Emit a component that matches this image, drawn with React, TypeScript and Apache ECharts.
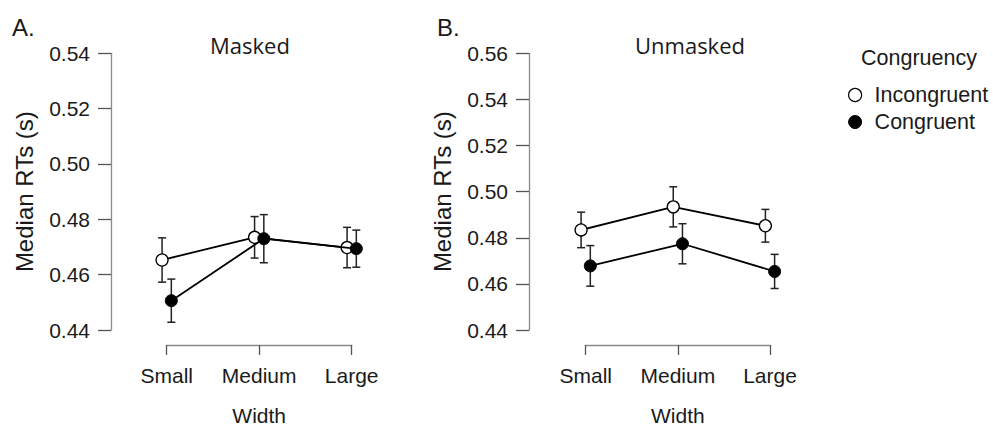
import React, { useEffect, useRef } from "react";
import * as echarts from "echarts";

const categories = ["Small", "Medium", "Large"];
const maskedTicks = [0.44, 0.54];
const unmaskedTicks = [0.44, 0.56];

const maskedIncongruent = [0.4653, 0.4735, 0.4698];
const maskedIncongruentErr = [0.008, 0.0075, 0.0073];
const maskedCongruent = [0.4506, 0.473, 0.4694];
const maskedCongruentErr = [0.0078, 0.0087, 0.0067];

const unmaskedIncongruent = [0.4834, 0.4934, 0.4852];
const unmaskedIncongruentErr = [0.0077, 0.0087, 0.0071];
const unmaskedCongruent = [0.4678, 0.4774, 0.4654];
const unmaskedCongruentErr = [0.0088, 0.0087, 0.0074];

const DODGE = 0.05;
const ARIAL = "'Liberation Sans', Arial, sans-serif";
const TEXT = "#1a1a1a";
const AXIS = "#8a8a8a";

function pts(vals: number[], off: number) {
  return vals.map((v, i) => [i + 1 + off, v]);
}
function errs(vals: number[], e: number[], off: number) {
  return vals.map((v, i) => [i + 1 + off, v - e[i], v + e[i]]);
}

function errorRender(params: any, api: any) {
  const x = api.value(0);
  const lo = api.coord([x, api.value(1)]);
  const hi = api.coord([x, api.value(2)]);
  const cap = 4;
  const style = { stroke: "#222", lineWidth: 1.5 };
  return {
    type: "group",
    children: [
      { type: "line", shape: { x1: lo[0], y1: lo[1], x2: hi[0], y2: hi[1] }, style },
      { type: "line", shape: { x1: lo[0] - cap, y1: lo[1], x2: lo[0] + cap, y2: lo[1] }, style },
      { type: "line", shape: { x1: hi[0] - cap, y1: hi[1], x2: hi[0] + cap, y2: hi[1] }, style },
    ],
  };
}

function xAxisFor(gridIndex: number) {
  return {
    type: "value",
    gridIndex,
    min: 1,
    max: 3,
    interval: 1,
    offset: 15,
    name: "Width",
    nameLocation: "middle",
    nameGap: 60,
    nameTextStyle: { fontFamily: ARIAL, fontSize: 21, color: TEXT },
    axisLine: { show: true, lineStyle: { color: AXIS, width: 1.3 } },
    axisTick: { show: true, length: 10, lineStyle: { color: "#555", width: 1.3 } },
    axisLabel: {
      margin: 20,
      fontFamily: ARIAL,
      fontSize: 21,
      color: TEXT,
      formatter: (v: number) => categories[Math.round(v) - 1] ?? "",
    },
    splitLine: { show: false },
  };
}

function yAxisFor(gridIndex: number, ticks: number[], offset: number) {
  return {
    type: "value",
    gridIndex,
    min: ticks[0],
    max: ticks[1],
    interval: 0.02,
    offset,
    name: "Median RTs (s)",
    nameLocation: "middle",
    nameRotate: 90,
    nameGap: 75,
    nameTextStyle: { fontFamily: ARIAL, fontSize: 24, color: TEXT },
    axisLine: { show: true, lineStyle: { color: AXIS, width: 1.3 } },
    axisTick: { show: true, length: 13, lineStyle: { color: "#555", width: 1.3 } },
    axisLabel: {
      margin: 21,
      fontFamily: ARIAL,
      fontSize: 21,
      color: TEXT,
      formatter: (v: number) => v.toFixed(2),
    },
    splitLine: { show: false },
  };
}

function lineSeries(name: string, data: number[][], idx: number, open: boolean) {
  return {
    type: "line",
    name,
    xAxisIndex: idx,
    yAxisIndex: idx,
    data,
    clip: false,
    symbol: "circle",
    symbolSize: 12,
    z: open ? 3 : 4,
    lineStyle: { color: "#000", width: 1.8 },
    itemStyle: open
      ? { color: "#fff", borderColor: "#000", borderWidth: 1.3 }
      : { color: "#000", borderColor: "#000", borderWidth: 1 },
  };
}

function errSeries(data: number[][], idx: number) {
  return {
    type: "custom",
    xAxisIndex: idx,
    yAxisIndex: idx,
    data,
    clip: false,
    z: 2,
    silent: true,
    renderItem: errorRender,
  };
}

export default function App() {
  const ref = useRef<HTMLDivElement>(null);
  useEffect(() => {
    document.body.style.margin = "0";
    const chart = echarts.init(ref.current!, undefined, { renderer: "svg" });
    chart.setOption({
      animation: false,
      backgroundColor: "#fff",
      grid: [
        { left: 166.7, top: 53.3, width: 185, height: 283.4 },
        { left: 585.7, top: 53.3, width: 184.3, height: 283.4 },
      ],
      xAxis: [xAxisFor(0), xAxisFor(1)],
      yAxis: [yAxisFor(0, maskedTicks, 55.7), yAxisFor(1, unmaskedTicks, 56.7)],
      legend: {
        orient: "vertical",
        left: 843,
        top: 79,
        icon: "circle",
        itemWidth: 13,
        itemHeight: 13,
        itemGap: 5,
        textStyle: { fontFamily: ARIAL, fontSize: 21.5, color: TEXT, padding: [0, 0, 0, 8] },
        data: [
          { name: "Incongruent", itemStyle: { color: "#fff", borderColor: "#000", borderWidth: 1.2 } },
          { name: "Congruent", itemStyle: { color: "#000", borderColor: "#000", borderWidth: 1 } },
        ],
      },
      graphic: [
        { type: "text", x: 12, y: 27, style: { text: "A.", fontFamily: ARIAL, fontSize: 24, fill: TEXT, align: "left", verticalAlign: "middle" } },
        { type: "text", x: 437, y: 27, style: { text: "B.", fontFamily: ARIAL, fontSize: 24, fill: TEXT, align: "left", verticalAlign: "middle" } },
        { type: "text", x: 250, y: 45, style: { text: "Masked", fontFamily: "'Open Sans', sans-serif", fontSize: 22, fill: TEXT, align: "center", verticalAlign: "middle" } },
        { type: "text", x: 690, y: 45, style: { text: "Unmasked", fontFamily: "'Open Sans', sans-serif", fontSize: 22, fill: TEXT, align: "center", verticalAlign: "middle" } },
        { type: "text", x: 919, y: 58, style: { text: "Congruency", fontFamily: ARIAL, fontSize: 21.5, fill: TEXT, align: "center", verticalAlign: "middle" } },
      ],
      series: [
        errSeries(errs(maskedIncongruent, maskedIncongruentErr, -DODGE), 0),
        errSeries(errs(maskedCongruent, maskedCongruentErr, DODGE), 0),
        lineSeries("Incongruent", pts(maskedIncongruent, -DODGE), 0, true),
        lineSeries("Congruent", pts(maskedCongruent, DODGE), 0, false),
        errSeries(errs(unmaskedIncongruent, unmaskedIncongruentErr, -DODGE), 1),
        errSeries(errs(unmaskedCongruent, unmaskedCongruentErr, DODGE), 1),
        lineSeries("Incongruent", pts(unmaskedIncongruent, -DODGE), 1, true),
        lineSeries("Congruent", pts(unmaskedCongruent, DODGE), 1, false),
      ],
    });
    return () => chart.dispose();
  }, []);
  return <div ref={ref} style={{ width: 993, height: 431 }} />;
}
